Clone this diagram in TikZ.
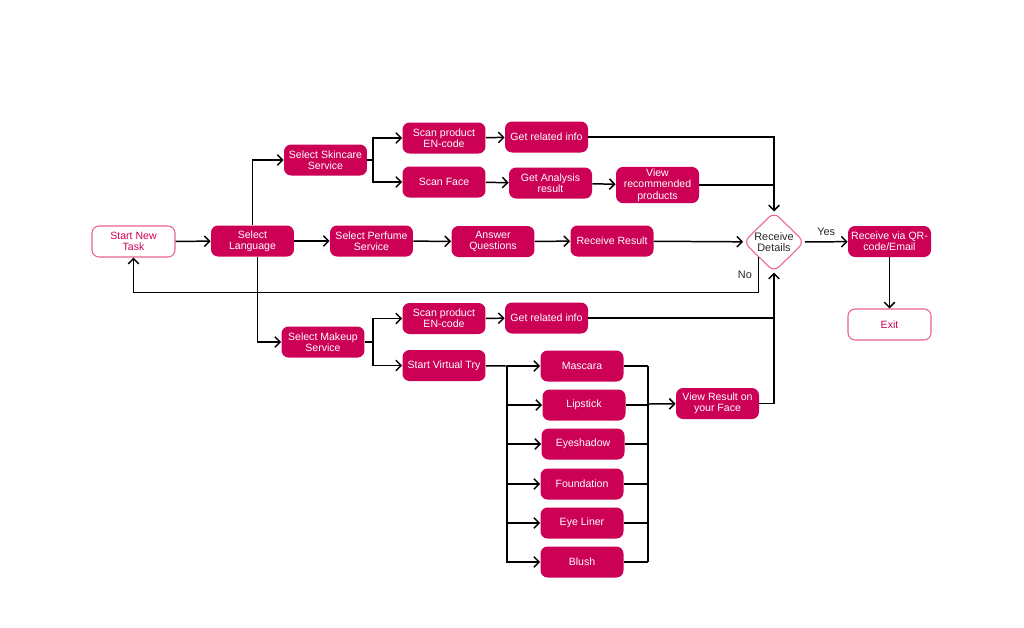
\documentclass[tikz,border=0pt]{standalone}
\usepackage{fontspec}
\setmainfont{Liberation Sans}
\usetikzlibrary{arrows.meta,shapes.geometric}

\definecolor{berry}{RGB}{204,0,85}
\definecolor{rosy}{RGB}{232,96,150}

\tikzset{
  task/.style={fill=berry, text=white, rounded corners=4pt,
    minimum width=1.66cm, minimum height=0.62cm, inner sep=1pt,
    align=center, font=\fontsize{6}{6.5}\selectfont},
  endpt/.style={task, fill=white, draw=rosy, text=berry, line width=0.6pt},
  choice/.style={diamond, draw=rosy, line width=0.6pt, rounded corners=4pt,
    minimum width=1.22cm, minimum height=1.2cm, inner sep=0pt,
    align=center, text=black!85, font=\fontsize{6.2}{6.6}\selectfont},
  link/.style={line width=0.85pt},
  arr/.style={link, -{Straight Barb[length=3pt,width=6pt]}},
  tag/.style={font=\fontsize{6.2}{6.6}\selectfont, text=black!85}
}

\begin{document}
\begin{tikzpicture}[x=0.02cm, y=-0.02cm]
  \useasboundingbox (0,0) rectangle (1024,627);

  % Start and language
  \node[endpt] (start) at (133.5,241.5) {Start New\\Task};
  \node[task] (lang) at (252.5,241) {Select\\Language};

  % Services
  \node[task] (skin) at (325.5,160) {Select Skincare\\Service};
  \node[task] (perf) at (371.5,241) {Select Perfume\\Service};
  \node[task] (makeup) at (323,342) {Select Makeup\\Service};

  % Skincare branch
  \node[task] (scan1) at (444,138) {Scan product\\EN-code};
  \node[task] (info1) at (546.5,137) {Get related info};
  \node[task] (face) at (444,182) {Scan Face};
  \node[task] (anal) at (550.5,183) {Get Analysis\\result};
  \node[task, minimum height=0.7cm] (rec) at (657.5,185) {View\\recommended\\products};

  % Perfume branch
  \node[task] (ques) at (493,241.5) {Answer\\Questions};
  \node[task] (res) at (612,241) {Receive Result};

  % Decision and end
  \node[choice] (det) at (774,242) {Receive\\Details};
  \node[task] (qr) at (889.5,241.5) {Receive via QR-\\code/Email};
  \node[endpt] (exit) at (889.5,324.5) {Exit};

  % Makeup branch
  \node[task] (scan2) at (444,318.5) {Scan product\\EN-code};
  \node[task] (info2) at (546.5,318) {Get related info};
  \node[task] (vtry) at (444,365.5) {Start Virtual Try};
  \node[task] (masc) at (582,366) {Mascara};
  \node[task] (lip) at (584,405) {Lipstick};
  \node[task] (shadow) at (583,444) {Eyeshadow};
  \node[task] (found) at (582,484) {Foundation};
  \node[task] (liner) at (582,523) {Eye Liner};
  \node[task] (blush) at (582,562) {Blush};
  \node[task] (view) at (717.5,403.5) {View Result on\\your Face};

  % Junctions
  \coordinate (skj) at (373,160);
  \coordinate (mkj) at (373,342);
  \coordinate (vtj) at (507,366);
  \coordinate (rbus) at (648,404);

  % Main line
  \draw[arr] (start) -- (lang);
  \draw[arr] (lang.north) |- (skin);
  \draw[arr] (lang) -- (perf);
  \draw[arr] ([xshift=0.1cm]lang.south) |- (makeup);

  % Skincare
  \draw[link] (skin) -- (skj);
  \draw[arr] (skj) |- (scan1);
  \draw[arr] (skj) |- (face);
  \draw[arr] (scan1) -- (info1);
  \draw[arr] (face) -- (anal);
  \draw[arr] (anal) -- (rec);
  \draw[arr] (info1) -| (det.north);
  \draw[link] (rec.east) -- (rec.east -| det.north);

  % Perfume
  \draw[arr] (perf) -- (ques);
  \draw[arr] (ques) -- (res);
  \draw[arr] (res) -- (det);

  % Decision
  \draw[arr] (det) -- node[tag, above] {Yes} (qr);
  \draw[arr] (qr) -- (exit);
  \draw[arr] (det.south west) -- node[tag, left] {No} ++(0,35) -| (start.south);

  % Makeup
  \draw[link] (makeup) -- (mkj);
  \draw[arr] (mkj) |- (scan2);
  \draw[arr] (mkj) |- (vtry);
  \draw[arr] (scan2) -- (info2);
  \draw[link] (info2.east) -- (info2.east -| det.south);
  \draw[link] (vtry) -- (vtj);
  \foreach \n in {masc,lip,shadow,found,liner,blush} {
    \draw[arr] (vtj) |- (\n);
    \draw[link] (\n.east) -- (\n.east -| rbus);
  }
  \draw[link] (rbus |- masc) -- (rbus |- blush);
  \draw[arr] (rbus) -- (view);
  \draw[arr] (view) -| (det.south);
\end{tikzpicture}
\end{document}
